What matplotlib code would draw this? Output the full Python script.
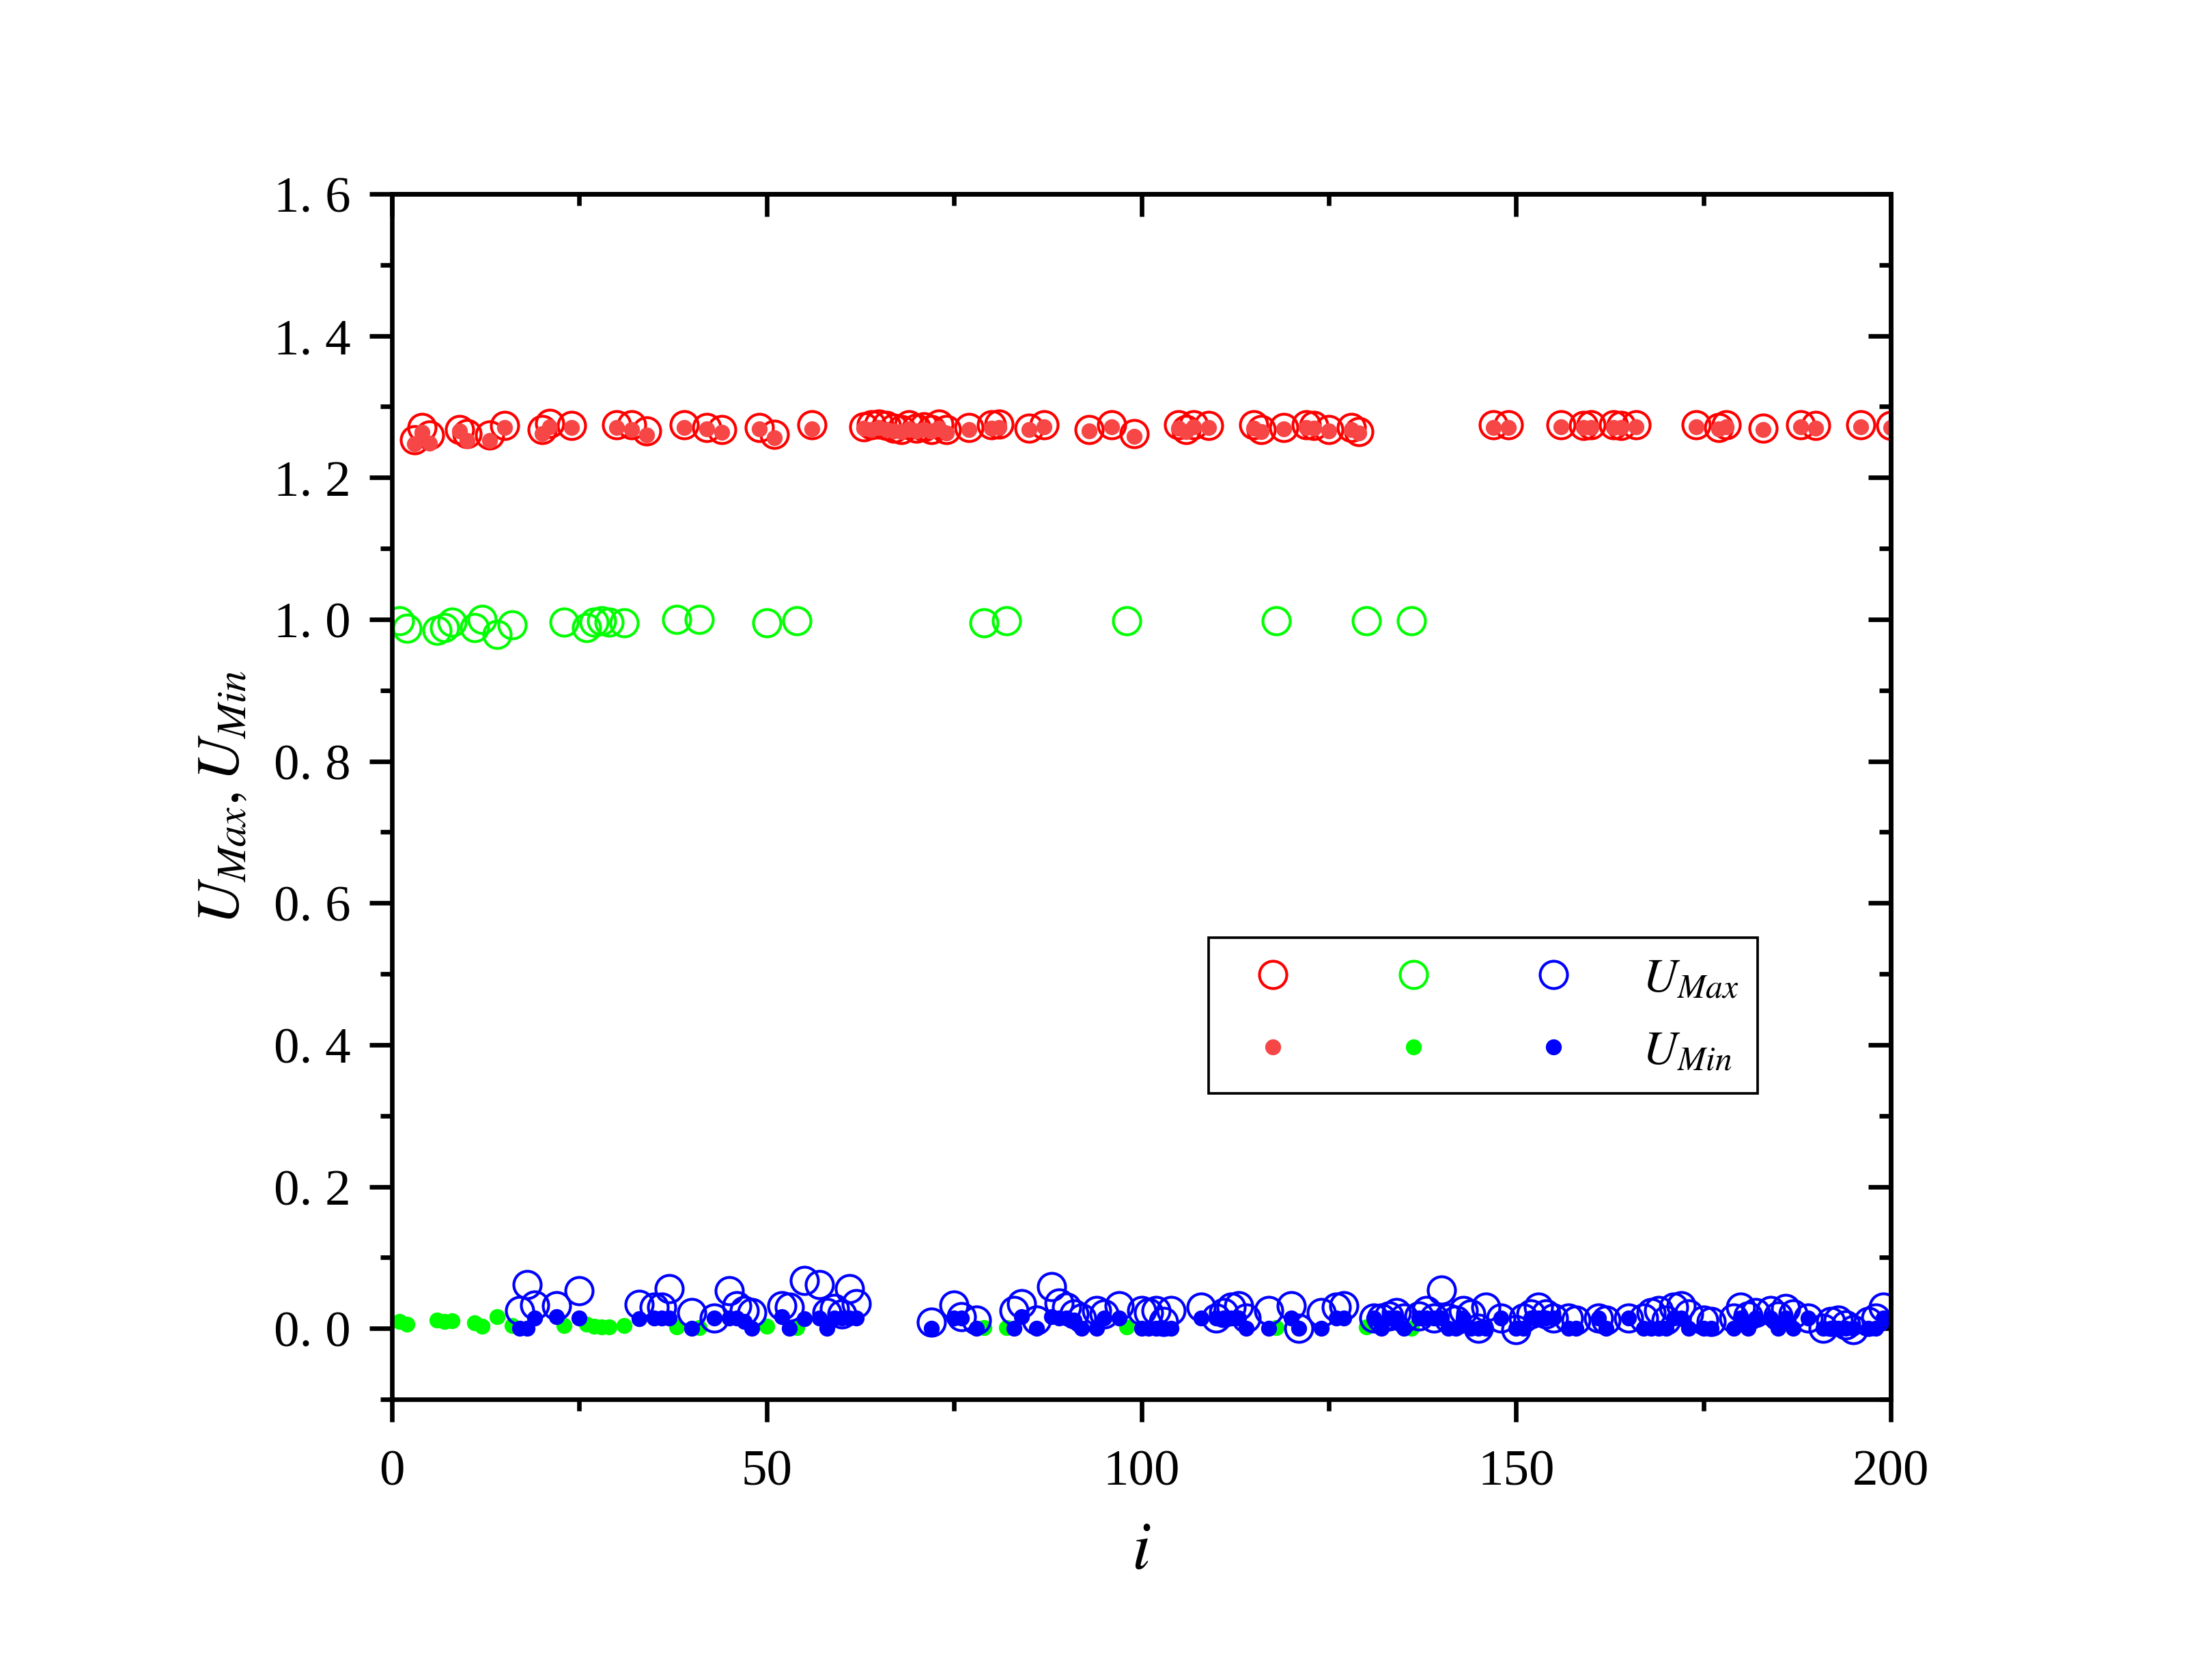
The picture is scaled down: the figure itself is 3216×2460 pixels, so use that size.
import numpy as np
import matplotlib.pyplot as plt
from matplotlib.ticker import MultipleLocator

plt.rcParams['font.family'] = ['Liberation Serif', 'DejaVu Serif']
plt.rcParams['mathtext.fontset'] = 'stix'

# red branch: i, U_max, U_min
red_i = [3, 4, 5, 9, 10, 13, 15, 20, 21, 24, 30, 32, 34, 39, 42, 44, 49, 51, 56,
         63, 64, 65, 66, 67, 68, 69, 70, 71, 72, 73, 74, 77, 80, 81, 85, 87, 93, 96, 99,
         105, 106, 107, 109, 115, 116, 119, 122, 123, 125, 128, 129,
         147, 149, 156, 159, 160, 163, 164, 166, 174, 177, 178, 183, 188, 190, 196, 200]
red_max = [1.253, 1.271, 1.260, 1.268, 1.262, 1.260, 1.273, 1.268, 1.276, 1.273, 1.274, 1.274, 1.266,
           1.274, 1.271, 1.268, 1.271, 1.261, 1.274,
           1.272, 1.274, 1.275, 1.273, 1.270, 1.268, 1.274, 1.270, 1.272, 1.268, 1.275, 1.268,
           1.271, 1.274, 1.275, 1.270, 1.274, 1.268, 1.274, 1.262,
           1.274, 1.268, 1.274, 1.273, 1.274, 1.268, 1.271, 1.274, 1.273, 1.268, 1.271, 1.265,
           1.274, 1.274, 1.274, 1.273, 1.274, 1.274, 1.273, 1.274, 1.274, 1.271, 1.274, 1.270,
           1.274, 1.273, 1.274, 1.273]
red_min = [1.247, 1.264, 1.248, 1.266, 1.252, 1.252, 1.271, 1.262, 1.272, 1.271, 1.271, 1.268, 1.260,
           1.271, 1.269, 1.264, 1.269, 1.256, 1.269,
           1.270, 1.268, 1.271, 1.268, 1.266, 1.265, 1.269, 1.266, 1.268, 1.266, 1.270, 1.263,
           1.268, 1.270, 1.271, 1.268, 1.272, 1.266, 1.272, 1.258,
           1.270, 1.265, 1.272, 1.271, 1.270, 1.265, 1.269, 1.271, 1.270, 1.266, 1.268, 1.263,
           1.271, 1.271, 1.272, 1.271, 1.271, 1.271, 1.271, 1.272, 1.272, 1.269, 1.272, 1.268,
           1.272, 1.270, 1.272, 1.271]

# green branch
green_i = [1, 2, 6, 7, 8, 11, 12, 14, 16, 23, 26, 27, 28, 29, 31, 38, 41, 50, 54,
           79, 82, 98, 118, 130, 136]
green_max = [0.998, 0.987, 0.985, 0.988, 0.996, 0.988, 1.000, 0.979, 0.992, 0.996, 0.988,
             0.996, 0.998, 0.996, 0.995, 1.000, 1.000, 0.995, 0.998,
             0.995, 0.998, 0.998, 0.998, 0.998, 0.998]
green_min = [0.010, 0.006, 0.012, 0.010, 0.011, 0.008, 0.003, 0.017, 0.004, 0.004, 0.006,
             0.003, 0.002, 0.002, 0.004, 0.002, 0.001, 0.003, 0.001,
             0.001, 0.001, 0.002, 0.001, 0.002, 0.000]

# blue branch
blue_i = [17, 18, 19, 22, 25, 33, 35, 36, 37, 40, 43, 45, 46, 47, 48,
          52, 53, 55, 57, 58, 59, 60, 61, 62, 72, 75, 76, 78,
          83, 84, 86, 88, 89, 90, 91, 92, 94, 95, 97, 100, 101, 102, 103, 104,
          108, 110, 111, 112, 113, 114, 117, 120, 121, 124, 126, 127,
          131, 132, 133, 134, 135, 137, 138, 139, 140, 141, 142, 143, 144, 145, 146,
          148, 150, 151, 152, 153, 154, 155, 157, 158, 161, 162, 165, 167, 168, 169,
          170, 171, 172, 173, 175, 176, 179, 180, 181, 182, 184, 185, 186, 187,
          189, 191, 192, 193, 194, 195, 197, 198, 199]
blue_max = [0.025, 0.062, 0.033, 0.032, 0.053, 0.034, 0.030, 0.030, 0.056, 0.022, 0.015,
            0.053, 0.032, 0.025, 0.022,
            0.032, 0.030, 0.068, 0.062, 0.022, 0.028, 0.020, 0.056, 0.035, 0.009, 0.033,
            0.017, 0.012,
            0.025, 0.035, 0.012, 0.059, 0.036, 0.030, 0.020, 0.015, 0.025, 0.020, 0.032,
            0.025, 0.022, 0.025, 0.010, 0.025,
            0.030, 0.015, 0.022, 0.030, 0.032, 0.015, 0.025, 0.032, 0.000, 0.022, 0.030, 0.032,
            0.015, 0.015, 0.018, 0.022, 0.015, 0.018, 0.025, 0.015, 0.054, 0.015, 0.012,
            0.025, 0.020, 0.000, 0.030,
            0.015, -0.002, 0.015, 0.020, 0.030, 0.020, 0.015, 0.015, 0.012, 0.015, 0.012,
            0.015, 0.015, 0.022, 0.025,
            0.012, 0.030, 0.032, 0.020, 0.012, 0.010, 0.015, 0.030, 0.018, 0.022, 0.025,
            0.018, 0.028, 0.020,
            0.015, 0.000, 0.010, 0.012, 0.005, -0.002, 0.010, 0.015, 0.030]
blue_min = [0.000, 0.000, 0.015, 0.017, 0.015, 0.014, 0.015, 0.015, 0.015, 0.000, 0.015,
            0.015, 0.015, 0.010, 0.000,
            0.017, 0.000, 0.014, 0.015, 0.000, 0.015, 0.015, 0.015, 0.015, 0.000, 0.015,
            0.015, 0.000,
            0.000, 0.017, 0.000, 0.017, 0.015, 0.015, 0.012, 0.000, 0.000, 0.015, 0.015,
            0.000, 0.000, 0.000, 0.000, 0.000,
            0.015, 0.015, 0.015, 0.015, 0.015, 0.000, 0.000, 0.015, 0.000, 0.000, 0.015, 0.015,
            0.015, 0.000, 0.015, 0.015, 0.000, 0.015, 0.015, 0.015, 0.015, 0.000, 0.000,
            0.015, 0.000, 0.000, 0.000,
            0.015, 0.000, 0.000, 0.015, 0.015, 0.015, 0.015, 0.000, 0.000, 0.015, 0.000,
            0.015, 0.000, 0.000, 0.000,
            0.000, 0.015, 0.015, 0.000, 0.000, 0.000, 0.000, 0.015, 0.000, 0.015, 0.015,
            0.000, 0.015, 0.000,
            0.015, 0.000, 0.000, 0.000, 0.000, 0.000, 0.000, 0.000, 0.015]

y_ticks = [0.0, 0.2, 0.4, 0.6, 0.8, 1.0, 1.2, 1.4, 1.6]
y_ticklabels = ['0. 0', '0. 2', '0. 4', '0. 6', '0. 8', '1. 0', '1. 2', '1. 4', '1. 6']
x_ticks = [0, 50, 100, 150, 200]

open_kw = dict(linestyle='none', marker='o', markersize=9.6, markerfacecolor='none',
               markeredgewidth=1.0)
fill_kw = dict(linestyle='none', marker='o', markersize=5.6, markeredgewidth=0)

fig = plt.figure(figsize=(10.72, 8.2033))
ax = fig.add_axes([0.1785, 0.167, 0.861 - 0.1785, 0.8842 - 0.167])

h_r1, = ax.plot(red_i, red_max, markeredgecolor='#ff0000', **open_kw)
h_r2, = ax.plot(red_i, red_min, color='#f64646', **fill_kw)
h_g1, = ax.plot(green_i, green_max, markeredgecolor='#00ff00', **open_kw)
h_g2, = ax.plot(green_i, green_min, color='#00ff00', **fill_kw)
h_b1, = ax.plot(blue_i, blue_max, markeredgecolor='#0000ff', **open_kw)
h_b2, = ax.plot(blue_i, blue_min, color='#0000ff', **fill_kw)

ax.set_xlim(0, 200)
ax.set_ylim(-0.1, 1.6)
ax.set_xticks(x_ticks)
ax.set_xticklabels([str(v) for v in x_ticks])
ax.set_yticks(y_ticks)
ax.set_yticklabels(y_ticklabels)
ax.xaxis.set_minor_locator(MultipleLocator(25))
ax.yaxis.set_minor_locator(MultipleLocator(0.1))
ax.tick_params(which='both', direction='out', width=1.6, labelsize=18, top=False, right=False)
ax.tick_params(which='major', length=8)
ax.tick_params(which='minor', length=4)
ax.tick_params(axis='y', pad=6.5)
ax.tick_params(axis='x', pad=9.5)
for s in ax.spines.values():
    s.set_linewidth(1.6)

# inward ticks on top and right
secx = ax.secondary_xaxis('top')
secx.set_xticks(x_ticks)
secx.xaxis.set_minor_locator(MultipleLocator(25))
secx.tick_params(which='both', direction='in', width=1.6, labeltop=False)
secx.tick_params(which='major', length=8)
secx.tick_params(which='minor', length=4)
secy = ax.secondary_yaxis('right')
secy.set_yticks(y_ticks)
secy.yaxis.set_minor_locator(MultipleLocator(0.1))
secy.tick_params(which='both', direction='in', width=1.6, labelright=False)
secy.tick_params(which='major', length=8)
secy.tick_params(which='minor', length=4)
secx.spines['top'].set_linewidth(1.6)
secy.spines['right'].set_linewidth(1.6)

ax.set_xlabel(r'$i$', fontsize=24, labelpad=9)
ax.set_ylabel(r'$U_{Max}, U_{Min}$', fontsize=21, labelpad=8)

leg = ax.legend([h_r1, h_r2, h_g1, h_g2, h_b1, h_b2],
                ['', '', '', '', r'$U_{Max}$', r'$U_{Min}$'],
                ncol=3, loc='upper left', bbox_to_anchor=(1770 / 3216, 1 - 1374 / 2461),
                bbox_transform=fig.transFigure, borderaxespad=0, fontsize=17,
                handlelength=1.86, handletextpad=0.9, columnspacing=0.14,
                borderpad=0.4, labelspacing=0.58, fancybox=False, framealpha=1,
                edgecolor='black')
leg.get_frame().set_linewidth(0.9)

fig.savefig('out.png', dpi=300)
